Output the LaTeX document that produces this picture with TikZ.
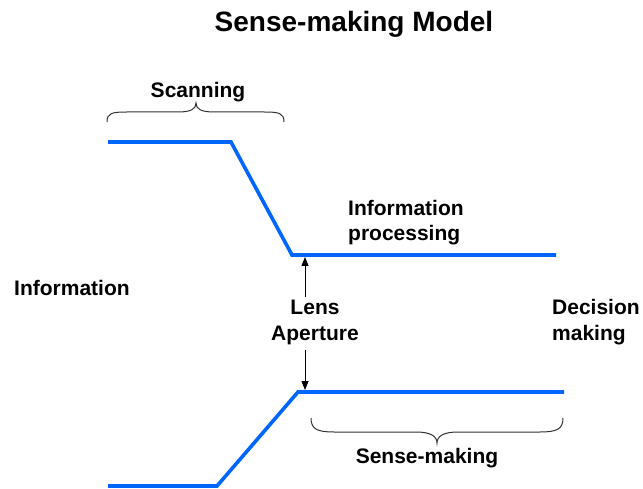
\documentclass[tikz,border=0pt]{standalone}
\usepackage{fontspec}
\setmainfont{Liberation Sans}
\usetikzlibrary{arrows.meta}

\definecolor{flowblue}{HTML}{0066FF}
\definecolor{bracegray}{HTML}{333333}

\begin{document}
\begin{tikzpicture}[x=1pt, y=-1pt,
  label/.style={inner sep=0pt, font=\bfseries\fontsize{21}{25.5}\selectfont},
  titletext/.style={inner sep=0pt, font=\bfseries\fontsize{28}{32}\selectfont},
  channel/.style={draw=flowblue, line width=3.6pt, line join=miter},
  bracket/.style={draw=bracegray, line width=1pt},
  gauge/.style={draw=black, line width=0.9pt, -{Triangle[length=9pt,width=7pt]}}]

  \useasboundingbox (0,0) rectangle (643,489);

  % title
  \node[titletext, anchor=base] (title) at (354,32) {Sense-making Model};

  % upper channel wall
  \coordinate (uL) at (108,142);
  \coordinate (uK) at (231,142);
  \coordinate (uN) at (292,255);
  \coordinate (uR) at (556,255);
  \draw[channel] (uL) -- (uK) -- (uN) -- (uR);

  % lower channel wall
  \coordinate (lL) at (108,486);
  \coordinate (lK) at (217,486);
  \coordinate (lN) at (298,392);
  \coordinate (lR) at (564,392);
  \draw[channel] (lL) -- (lK) -- (lN) -- (lR);

  % labels (two-line labels are anchored on the baseline of their last line)
  \node[label, anchor=base] (scan) at (198,98) {Scanning};
  \node[label, anchor=base west] (info) at (14,295) {Information};
  \node[label, anchor=base west, align=left] (proc) at (348,241) {Information\\processing};
  \node[label, anchor=base, align=center] (lens) at (315,340) {Lens\\Aperture};
  \node[label, anchor=base west, align=left] (dec) at (552,340) {Decision\\making};
  \node[label, anchor=base] (sense) at (427,463) {Sense-making};

  % aperture arrows
  \coordinate (aTop) at (305,297);
  \coordinate (aTopEnd) at (305,257);
  \coordinate (aBot) at (305,350);
  \coordinate (aBotEnd) at (305,390);
  \draw[gauge] (aTop) -- (aTopEnd);
  \draw[gauge] (aBot) -- (aBotEnd);

  % scanning brace (opens downward)
  \draw[bracket] (107,122) .. controls (107,113) and (112,112) .. (127,112)
    -- (178,112) .. controls (191,112) and (196,109) .. (196,103)
    .. controls (196,109) and (201,112) .. (214,112)
    -- (264,112) .. controls (279,112) and (284,113) .. (284,122);

  % sense-making brace (opens upward)
  \draw[bracket] (311,418) .. controls (311,429) and (317,432) .. (334,432)
    -- (416,432) .. controls (430,432) and (437,436) .. (437,443)
    .. controls (437,436) and (444,432) .. (458,432)
    -- (540,432) .. controls (557,432) and (563,429) .. (563,418);
\end{tikzpicture}
\end{document}
